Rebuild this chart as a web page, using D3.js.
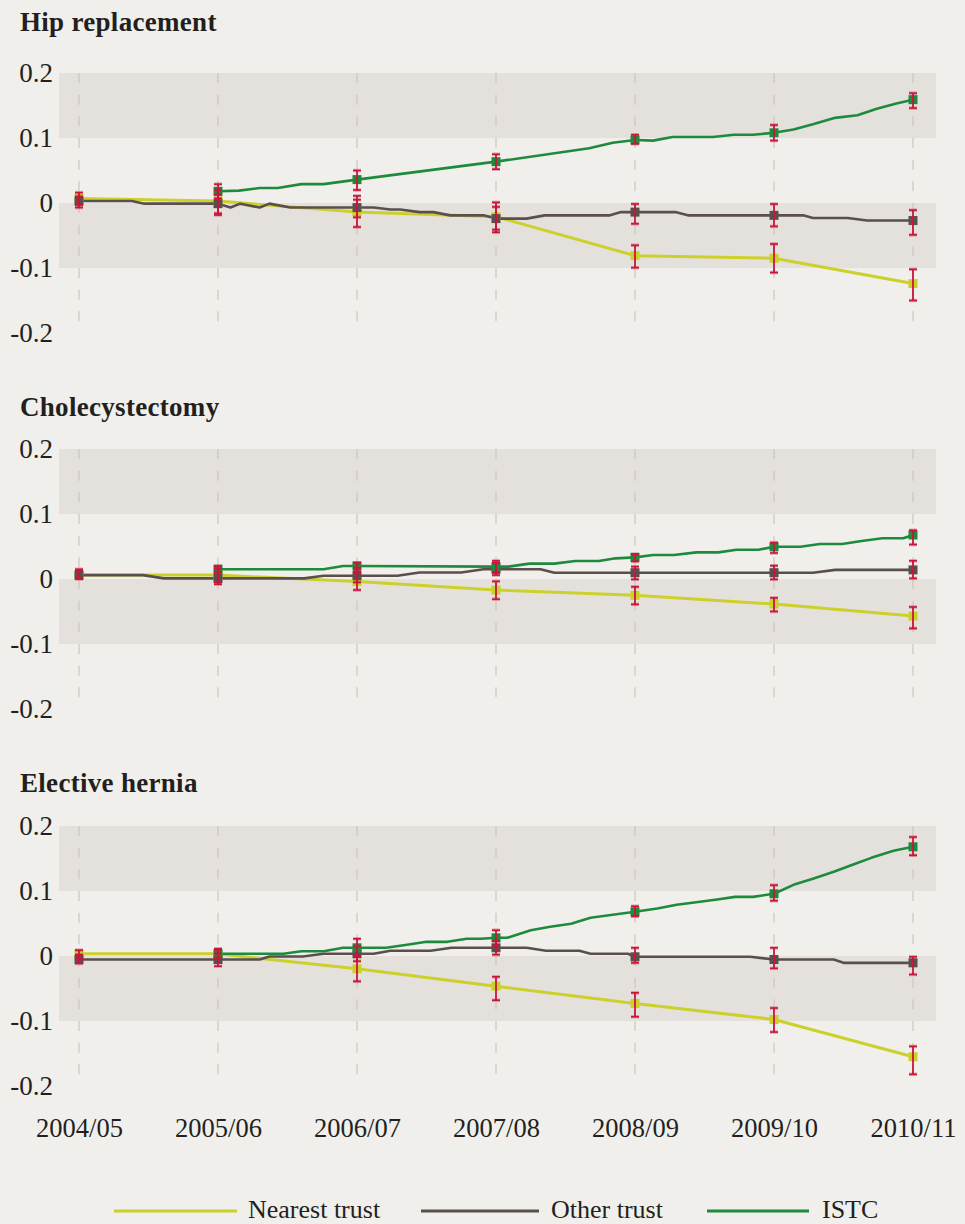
<!DOCTYPE html>
<html>
<head>
<meta charset="utf-8">
<script src="https://cdn.jsdelivr.net/npm/d3@7"></script>
<style>
  html, body { margin: 0; padding: 0; background: #f0efeb; }
  svg { display: block; }
</style>
</head>
<body>
<svg id="chart" width="965" height="1224"></svg>
<script>
// ---- labels ----
const years = ["2004/05", "2005/06", "2006/07", "2007/08", "2008/09", "2009/10", "2010/11"];
const yTicks = [0.2, 0.1, 0, -0.1, -0.2];
const panelTitles = ["Hip replacement", "Cholecystectomy", "Elective hernia"];
const seriesNames = ["Nearest trust", "Other trust", "ISTC"];

// ---- annual estimates: [year index, value, lower CI, upper CI] ----
const hipNearest = [[0, 0.007, -0.003, 0.016], [1, 0.003, -0.0185, 0.020], [2, -0.014, -0.037, 0.011], [3, -0.021, -0.045, 0.001], [4, -0.081, -0.0995, -0.065], [5, -0.085, -0.107, -0.063], [6, -0.124, -0.150, -0.102]];
const hipOther = [[0, 0.003, -0.007, 0.010], [1, -0.001, -0.016, 0.013], [2, -0.007, -0.022, 0.005], [3, -0.024, -0.041, -0.006], [4, -0.014, -0.032, -0.0015], [5, -0.019, -0.036, -0.0015], [6, -0.027, -0.049, -0.011]];
const hipIstc = [[1, 0.018, 0.007, 0.029], [2, 0.036, 0.020, 0.050], [3, 0.0636, 0.052, 0.075], [4, 0.097, 0.091, 0.105], [5, 0.108, 0.096, 0.120], [6, 0.159, 0.146, 0.169]];

const choleNearest = [[0, 0.006, 0.001, 0.015], [1, 0.006, -0.005, 0.016], [2, -0.004, -0.017, 0.009], [3, -0.017, -0.031, -0.0036], [4, -0.025, -0.039, -0.012], [5, -0.0385, -0.050, -0.029], [6, -0.057, -0.076, -0.043]];
const choleOther = [[0, 0.006, 0.0, 0.013], [1, 0.001, -0.008, 0.010], [2, 0.005, -0.005, 0.017], [3, 0.015, 0.006, 0.025], [4, 0.0097, -0.0005, 0.019], [5, 0.0097, -0.0005, 0.0205], [6, 0.014, 0.001, 0.028]];
const choleIstc = [[1, 0.015, 0.010, 0.020], [2, 0.020, 0.012, 0.025], [3, 0.019, 0.010, 0.028], [4, 0.0333, 0.027, 0.038], [5, 0.0497, 0.040, 0.056], [6, 0.0677, 0.053, 0.075]];

const herniaNearest = [[0, 0.0034, -0.004, 0.009], [1, 0.0034, -0.003, 0.011], [2, -0.0197, -0.039, 0.0], [3, -0.0464, -0.068, -0.032], [4, -0.073, -0.0935, -0.0566], [5, -0.0977, -0.117, -0.080], [6, -0.155, -0.182, -0.139]];
const herniaOther = [[0, -0.0054, -0.0115, 0.002], [1, -0.0054, -0.0157, 0.004], [2, 0.0034, -0.008, 0.015], [3, 0.0126, 0.002, 0.023], [4, -0.0012, -0.0105, 0.0126], [5, -0.0054, -0.019, 0.0126], [6, -0.0105, -0.0285, -0.0012]];
const herniaIstc = [[1, 0.0034, -0.003, 0.010], [2, 0.0126, 0.0, 0.0265], [3, 0.028, 0.016, 0.0397], [4, 0.068, 0.061, 0.0766], [5, 0.0957, 0.085, 0.109], [6, 0.168, 0.155, 0.183]];

// ---- within-year trend lines: [time in years from 2004/05, value] ----
const hipOtherTrend = [[0, 0.003], [0.38, 0.003], [0.47, -0.001], [1, -0.001], [1.09, -0.007], [1.16, -0.001], [1.30, -0.007], [1.37, -0.001], [1.52, -0.007], [2, -0.007], [2.12, -0.007], [2.24, -0.010], [2.31, -0.010], [2.45, -0.014], [2.55, -0.014], [2.67, -0.019], [2.91, -0.019], [3, -0.024], [3.22, -0.024], [3.35, -0.019], [3.82, -0.019], [3.90, -0.014], [4, -0.014], [4.29, -0.014], [4.38, -0.019], [5, -0.019], [5.21, -0.019], [5.28, -0.023], [5.53, -0.023], [5.67, -0.027], [6, -0.027]];
const hipIstcTrend = [[1, 0.018], [1.15, 0.019], [1.30, 0.023], [1.43, 0.023], [1.60, 0.029], [1.76, 0.029], [2, 0.036], [3, 0.0636], [3.67, 0.0841], [3.84, 0.0928], [4, 0.097], [4.13, 0.096], [4.27, 0.1015], [4.56, 0.1015], [4.71, 0.105], [4.85, 0.105], [5, 0.108], [5.14, 0.113], [5.28, 0.121], [5.44, 0.131], [5.60, 0.135], [5.74, 0.145], [5.88, 0.153], [6, 0.159]];

const choleOtherTrend = [[0, 0.006], [0.46, 0.006], [0.61, 0.001], [1, 0.001], [1.62, 0.001], [1.76, 0.005], [2, 0.005], [2.29, 0.005], [2.45, 0.010], [2.75, 0.010], [2.91, 0.015], [3, 0.015], [3.32, 0.015], [3.42, 0.0097], [4, 0.0097], [5, 0.0097], [5.28, 0.0097], [5.44, 0.014], [6, 0.014]];
const choleIstcTrend = [[1, 0.015], [1.76, 0.015], [1.9, 0.020], [2, 0.020], [3, 0.019], [3.09, 0.019], [3.24, 0.0236], [3.42, 0.0236], [3.57, 0.0277], [3.74, 0.0277], [3.86, 0.0318], [4, 0.0333], [4.13, 0.037], [4.28, 0.037], [4.44, 0.041], [4.60, 0.041], [4.73, 0.045], [4.89, 0.045], [5, 0.0497], [5.19, 0.0497], [5.33, 0.0538], [5.49, 0.0538], [5.63, 0.0585], [5.78, 0.0626], [5.93, 0.0626], [6, 0.0677]];

const herniaOtherTrend = [[0, -0.0054], [1, -0.0054], [1.30, -0.0054], [1.37, -0.0008], [1.61, -0.0008], [1.76, 0.0034], [2, 0.0034], [2.12, 0.0034], [2.24, 0.008], [2.53, 0.008], [2.68, 0.0126], [3, 0.0126], [3.22, 0.0126], [3.36, 0.008], [3.60, 0.008], [3.68, 0.0034], [3.95, 0.0034], [4, -0.0012], [4.83, -0.0012], [5, -0.0054], [5.43, -0.0054], [5.50, -0.0105], [6, -0.0105]];
const herniaIstcTrend = [[1, 0.0034], [1.47, 0.0034], [1.60, 0.0074], [1.76, 0.0074], [1.90, 0.0126], [2, 0.0126], [2.21, 0.0126], [2.36, 0.0172], [2.50, 0.0218], [2.65, 0.0218], [2.79, 0.0265], [2.89, 0.0265], [3, 0.028], [3.08, 0.028], [3.25, 0.0397], [3.39, 0.045], [3.54, 0.0495], [3.68, 0.0588], [3.84, 0.0634], [4, 0.068], [4.16, 0.073], [4.30, 0.0788], [4.44, 0.0828], [4.59, 0.087], [4.72, 0.091], [4.85, 0.091], [5, 0.0957], [5.14, 0.1095], [5.28, 0.1188], [5.43, 0.1295], [5.57, 0.1408], [5.70, 0.151], [5.86, 0.162], [6, 0.168]];

// ---- assemble panels (nearest trust is drawn straight between annual points) ----
const panels = [
  { title: panelTitles[0], estimates: [hipNearest, hipOther, hipIstc],
    trends: [hipNearest.map(d => [d[0], d[1]]), hipOtherTrend, hipIstcTrend] },
  { title: panelTitles[1], estimates: [choleNearest, choleOther, choleIstc],
    trends: [choleNearest.map(d => [d[0], d[1]]), choleOtherTrend, choleIstcTrend] },
  { title: panelTitles[2], estimates: [herniaNearest, herniaOther, herniaIstc],
    trends: [herniaNearest.map(d => [d[0], d[1]]), herniaOtherTrend, herniaIstcTrend] }
];

// ---- styling / layout ----
const colors = ["#ccd02b", "#5a4f4c", "#1e8a3d"];
const lineWidths = [3, 2.6, 2.6];
const errColor = "#c8163a";
const textColor = "#231f20";
const fontFamily = "'Liberation Serif', 'DejaVu Serif', serif";
const panelTops = [73, 449, 826];
const titleBaselines = [31, 416, 792];
const panelHeight = 260;
const plotLeft = 59, plotRight = 936;

const svg = d3.select("#chart");
svg.append("rect").attr("width", 965).attr("height", 1224).attr("fill", "#f0efeb");

const x = d3.scaleLinear().domain([0, 6]).range([79, 913]);
const line = (y) => d3.line().x(d => x(d[0])).y(d => y(d[1]));

panels.forEach((p, pi) => {
  const top = panelTops[pi];
  const y = d3.scaleLinear().domain([-0.2, 0.2]).range([top + panelHeight, top]);
  const g = svg.append("g");

  // title
  g.append("text")
    .attr("x", 20).attr("y", titleBaselines[pi])
    .attr("font-family", fontFamily).attr("font-weight", "bold")
    .attr("font-size", 27).attr("letter-spacing", 0.3).attr("fill", textColor)
    .text(p.title);

  // shaded bands
  [[0.1, 0.2], [-0.1, 0]].forEach(b => {
    g.append("rect")
      .attr("x", plotLeft).attr("width", plotRight - plotLeft)
      .attr("y", y(b[1])).attr("height", y(b[0]) - y(b[1]))
      .attr("fill", "#e4e1dd");
  });

  // dashed year gridlines
  g.selectAll(".vgrid").data(d3.range(years.length)).join("line")
    .attr("x1", d => x(d)).attr("x2", d => x(d))
    .attr("y1", y(0.2)).attr("y2", y(-0.2))
    .attr("stroke", "#cdc5bd").attr("stroke-width", 1.2)
    .attr("stroke-dasharray", "10,11.67");

  // y axis
  const yAxis = d3.axisLeft(y).tickValues(yTicks).tickSize(0).tickPadding(0)
    .tickFormat(d => d === 0 ? "0" : String(d));
  const ya = g.append("g").attr("transform", "translate(53,0)").call(yAxis);
  ya.select(".domain").remove();
  ya.selectAll("text").attr("font-family", fontFamily).attr("font-size", 27)
    .attr("fill", textColor).attr("dy", "0.33em");

  // trend lines
  p.trends.forEach((t, si) => {
    g.append("path").datum(t)
      .attr("d", line(y))
      .attr("fill", "none").attr("stroke", colors[si])
      .attr("stroke-width", lineWidths[si]).attr("stroke-linejoin", "round");
  });

  // annual markers
  p.estimates.forEach((est, si) => {
    g.selectAll(null).data(est).join("rect")
      .attr("x", d => x(d[0]) - 4.5).attr("y", d => y(d[1]) - 4.5)
      .attr("width", 9).attr("height", 9).attr("fill", colors[si]);
  });

  // confidence intervals
  p.estimates.forEach((est) => {
    const eb = g.selectAll(null).data(est).join("g");
    eb.append("line")
      .attr("x1", d => x(d[0])).attr("x2", d => x(d[0]))
      .attr("y1", d => y(d[2])).attr("y2", d => y(d[3]))
      .attr("stroke", errColor).attr("stroke-width", 1.8);
    [2, 3].forEach(k => {
      eb.append("line")
        .attr("x1", d => x(d[0]) - 4).attr("x2", d => x(d[0]) + 4)
        .attr("y1", d => y(d[k])).attr("y2", d => y(d[k]))
        .attr("stroke", errColor).attr("stroke-opacity", 0.35).attr("stroke-width", 3.5);
      eb.append("line")
        .attr("x1", d => x(d[0]) - 4).attr("x2", d => x(d[0]) + 4)
        .attr("y1", d => y(d[k])).attr("y2", d => y(d[k]))
        .attr("stroke", errColor).attr("stroke-width", 1.6);
    });
  });

  // x axis on the last panel
  if (pi === panels.length - 1) {
    const xAxis = d3.axisBottom(x).tickValues(d3.range(years.length)).tickSize(0)
      .tickPadding(0).tickFormat(i => years[i]);
    const xa = g.append("g").attr("transform", "translate(0,1137)").call(xAxis);
    xa.select(".domain").remove();
    xa.selectAll("text").attr("font-family", fontFamily).attr("font-size", 26.5)
      .attr("fill", textColor).attr("dy", "0");
  }
});

// legend
const legendItems = [
  { x1: 114, x2: 237, tx: 248 },
  { x1: 421, x2: 539, tx: 551 },
  { x1: 707, x2: 809, tx: 822 }
];
const lg = svg.append("g");
legendItems.forEach((it, i) => {
  lg.append("line").attr("x1", it.x1).attr("x2", it.x2)
    .attr("y1", 1211).attr("y2", 1211)
    .attr("stroke", colors[i]).attr("stroke-width", 3);
  lg.append("text").attr("x", it.tx).attr("y", 1218)
    .attr("font-family", fontFamily).attr("font-size", 26)
    .attr("fill", textColor).text(seriesNames[i]);
});
</script>
</body>
</html>
